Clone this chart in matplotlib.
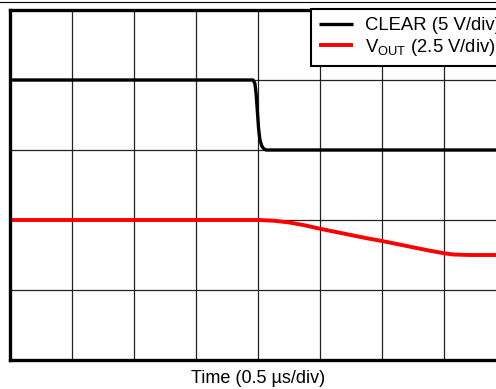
import matplotlib
matplotlib.use('Agg')
import matplotlib.pyplot as plt
from matplotlib.lines import Line2D

plt.rcParams['font.family'] = ['Liberation Sans', 'DejaVu Sans']

# time in divisions (0.5 us/div), levels in divisions from the bottom
clear_t = [0.0, 3.92, 3.95, 3.97, 3.99, 4.01, 4.03, 4.06, 4.09, 4.13, 8.0]
clear_v = [4.0, 4.0, 3.95, 3.8, 3.55, 3.3, 3.15, 3.06, 3.02, 3.0, 3.0]

vout_t = [0.0, 4.0, 4.25, 4.5, 4.75, 5.0, 5.25, 5.5, 5.75, 6.0, 6.25, 6.5, 6.75, 7.0, 7.15, 7.4, 8.0]
vout_v = [2.0, 2.0, 1.99, 1.965, 1.925, 1.875, 1.83, 1.785, 1.74, 1.70, 1.655, 1.61, 1.565, 1.525, 1.507, 1.5, 1.5]

labels = ['CLEAR (5 V/div)', r'V$_{\mathregular{OUT}}$ (2.5 V/div)']
xlabel = 'Time (0.5 \u00b5s/div)'

W, H = 496, 389
fig = plt.figure(figsize=(W / 100, H / 100), dpi=100)
ax = fig.add_axes([10 / W, 29 / H, 496 / W, 350 / H])

ax.plot(clear_t, clear_v, color='black', lw=2.4, label=labels[0], solid_capstyle='butt')
ax.plot(vout_t, vout_v, color='#ff0000', lw=2.8, label=labels[1], solid_capstyle='butt')

ax.set_xlim(0, 8)
ax.set_ylim(0, 5)
ax.set_xticks(range(9))
ax.set_yticks(range(6))
ax.grid(True, color='#222222', lw=0.9)
ax.tick_params(length=0, labelbottom=False, labelleft=False)
for s in ax.spines.values():
    s.set_linewidth(2.4)
ax.set_xlabel(xlabel, fontsize=13, labelpad=7)

leg = ax.legend(loc='upper left', bbox_to_anchor=(311 / W, 1 - 9 / H),
                bbox_transform=fig.transFigure, fontsize=13.3, frameon=True,
                fancybox=False, edgecolor='black', framealpha=1,
                handlelength=1.85, handletextpad=0.6, labelspacing=0.12,
                borderpad=0.45, borderaxespad=0)
leg.get_frame().set_linewidth(1.5)

# thin rule at the very top
fig.add_artist(Line2D([0, 1], [1 - 1.5 / H] * 2, color='black', lw=0.8))

fig.savefig('out.png', dpi=100)
